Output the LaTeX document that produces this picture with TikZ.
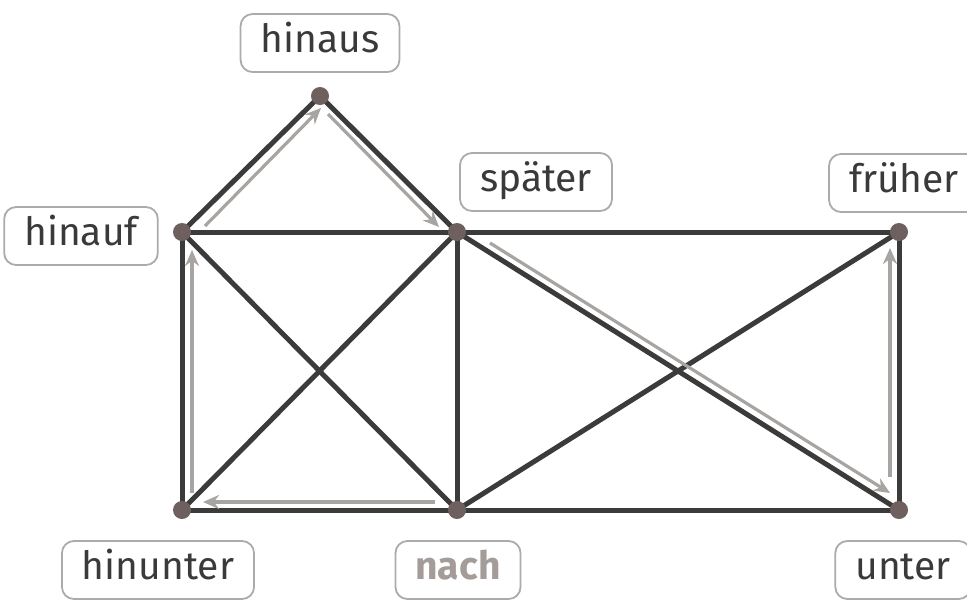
\documentclass[tikz,border=0pt]{standalone}
\usepackage{fontspec}
\setmainfont{Fira Sans}
\usetikzlibrary{arrows.meta,positioning,backgrounds}
\definecolor{edgegray}{HTML}{3B3B3B}
\definecolor{dotbrown}{HTML}{6F6060}
\definecolor{pathgray}{HTML}{A8A4A1}
\definecolor{boxgray}{HTML}{ABABAB}
\definecolor{textgray}{HTML}{3A3A3A}
\definecolor{nachgray}{HTML}{A39C99}

\begin{document}
\begin{tikzpicture}[
    x=0.5pt, y=-0.5pt,
    dot/.style={circle, fill=dotbrown, inner sep=0pt, minimum size=9pt},
    word/.style={rectangle, draw=boxgray, line width=0.9pt, rounded corners=6pt, minimum height=29pt, inner xsep=10pt, text height=13pt, text depth=4pt, font=\fontsize{19.5}{22}\selectfont, text=textgray},
    edge/.style={draw=edgegray, line width=2.5pt},
    walk/.style={-{Stealth[length=8pt, width=7pt, inset=2.6pt]}, draw=pathgray, line width=1.6pt}
]
\useasboundingbox (0,0) rectangle (967,601);

% Dots
\node[dot] (hinaus) at (320,96) {};
\node[dot] (hinauf) at (182,232) {};
\node[dot] (spaeter) at (457,232) {};
\node[dot] (frueher) at (899,232) {};
\node[dot] (hinunter) at (182,510) {};
\node[dot] (nach) at (457,510) {};
\node[dot] (unter) at (899,510) {};

% Labels
\node[word] (hinauslabel) at (320,43) {hinaus};
\node[word] (hinauflabel) at (81,236) {hinauf};
\node[word] (spaeterlabel) at (536,182) {später};
\node[word] (frueherlabel) at (904,183) {früher};
\node[word] (hinunterlabel) at (158,570) {hinunter};
\node[word, text=nachgray, font=\fontsize{19.5}{22}\selectfont\bfseries] (nachlabel) at (458,570) {nach};
\node[word] (unterlabel) at (903,570) {unter};

% Edges
\begin{scope}[on background layer]
\draw[edge] (hinauf.center) -- (hinaus.center) -- (spaeter.center);
\draw[edge] (hinauf.center) -- (spaeter.center) -- (frueher.center);
\draw[edge] (hinauf.center) -- (hinunter.center) -- (nach.center) -- (unter.center) -- (frueher.center);
\draw[edge] (hinauf.center) -- (nach.center);
\draw[edge] (spaeter.center) -- (hinunter.center);
\draw[edge] (spaeter.center) -- (nach.center);
\draw[edge] (spaeter.center) -- (unter.center);
\draw[edge] (nach.center) -- (frueher.center);
\end{scope}

% Walk
\draw[walk] ([shift={(-22,-8)}]nach.center) -- ([shift={(21,-8)}]hinunter.center);
\draw[walk] ([shift={(10,-17)}]hinunter.center) -- ([shift={(10,18)}]hinauf.center);
\draw[walk] ([shift={(23,-6)}]hinauf.center) -- ([shift={(1,12)}]hinaus.center);
\draw[walk] ([shift={(8,18)}]hinaus.center) -- ([shift={(-18,-5)}]spaeter.center);
\draw[walk] ([shift={(33,11)}]spaeter.center) -- ([shift={(-9,-17)}]unter.center);
\draw[walk] ([shift={(-9,-33)}]unter.center) -- ([shift={(-9,16)}]frueher.center);

\end{tikzpicture}
\end{document}
